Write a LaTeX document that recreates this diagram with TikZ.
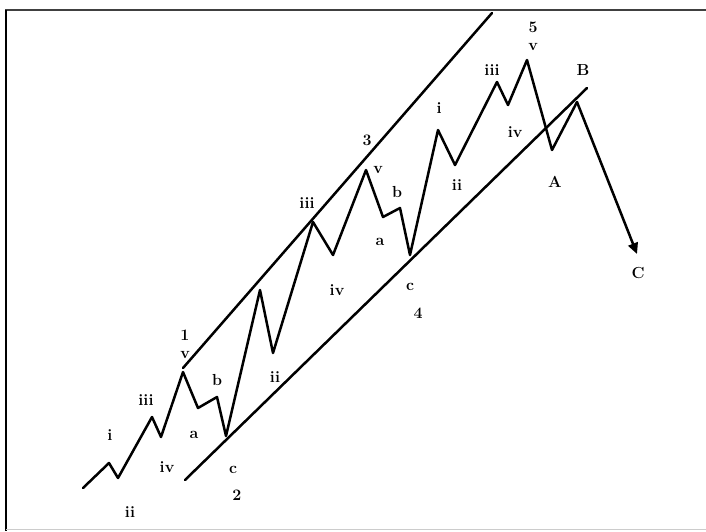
\documentclass[tikz,border=0pt]{standalone}
\usetikzlibrary{arrows.meta}
\begin{document}
\begin{tikzpicture}[x=1pt,y=-1pt,
  wave/.style={line width=2.5pt, line join=round, line cap=round},
  chan/.style={line width=2.5pt, line cap=round},
  lbl/.style={font=\fontsize{16}{18}\selectfont\bfseries, inner sep=0pt}]
\useasboundingbox (0,0) rectangle (706,531);
% frame
\draw[line width=2pt, black!75] (5,10) -- (706,10);
\draw[line width=2.5pt, black] (6,10) -- (6,531);
\draw[line width=1pt, black!20] (6,529) -- (706,529);
% wave vertices
\coordinate (s0) at (83,488);
\coordinate (wi) at (109,463);
\coordinate (wii) at (118,478);
\coordinate (wiii) at (152,417);
\coordinate (wiv) at (161,437);
\coordinate (w1) at (183,372);
\coordinate (wa1) at (198,408);
\coordinate (wb1) at (217,397);
\coordinate (w2) at (226,436);
\coordinate (w3i) at (260,290);
\coordinate (w3ii) at (273,353);
\coordinate (w3iii) at (313,222);
\coordinate (w3iv) at (333,255);
\coordinate (w3) at (366,170);
\coordinate (wa2) at (383,217);
\coordinate (wb2) at (400,208);
\coordinate (w4) at (410,255);
\coordinate (w5i) at (438,130);
\coordinate (w5ii) at (455,165);
\coordinate (w5iii) at (497,82);
\coordinate (w5iv) at (508,105);
\coordinate (w5) at (527,60);
\coordinate (wA) at (552,150);
\coordinate (wB) at (577,102);
\coordinate (wC) at (637,254);
% channel ends
\coordinate (u0) at (183,368);
\coordinate (u1) at (492,13);
\coordinate (l0) at (185,480);
\coordinate (l1) at (587,88);
\draw[chan] (u0) -- (u1);
\draw[chan] (l0) -- (l1);
\draw[wave] (s0) -- (wi) -- (wii) -- (wiii) -- (wiv) -- (w1) -- (wa1) -- (wb1) -- (w2)
  -- (w3i) -- (w3ii) -- (w3iii) -- (w3iv) -- (w3) -- (wa2) -- (wb2) -- (w4)
  -- (w5i) -- (w5ii) -- (w5iii) -- (w5iv) -- (w5) -- (wA) -- (wB);
\draw[wave, -{Triangle[length=11pt,width=10pt]}] (wB) -- (wC);
% labels
\node[lbl] (li) at (110,435) {i};
\node[lbl] (lii) at (130,512) {ii};
\node[lbl] (liii) at (146,400) {iii};
\node[lbl] (liv) at (167,467) {iv};
\node[lbl] (l1a) at (185,335) {1};
\node[lbl] (l1b) at (185,355) {v};
\node[lbl] (la1) at (194,435) {a};
\node[lbl] (lb1) at (217,380) {b};
\node[lbl] (lc1) at (233,470) {c};
\node[lbl] (l2) at (237,495) {2};
\node[lbl] (l3ii) at (275,377) {ii};
\node[lbl] (l3iii) at (307,203) {iii};
\node[lbl] (l3iv) at (337,290) {iv};
\node[lbl] (l3a) at (367,140) {3};
\node[lbl] (l3b) at (378,170) {v};
\node[lbl] (la2) at (380,242) {a};
\node[lbl] (lb2) at (397,192) {b};
\node[lbl] (lc2) at (410,287) {c};
\node[lbl] (l4) at (418,313) {4};
\node[lbl] (l5i) at (439,108) {i};
\node[lbl] (l5ii) at (457,185) {ii};
\node[lbl] (l5iii) at (492,70) {iii};
\node[lbl] (l5iv) at (515,132) {iv};
\node[lbl] (l5a) at (533,27) {5};
\node[lbl] (l5b) at (533,47) {v};
\node[lbl] (lA) at (555,182) {A};
\node[lbl] (lB) at (583,70) {B};
\node[lbl] (lC) at (638,273) {C};
\end{tikzpicture}
\end{document}
